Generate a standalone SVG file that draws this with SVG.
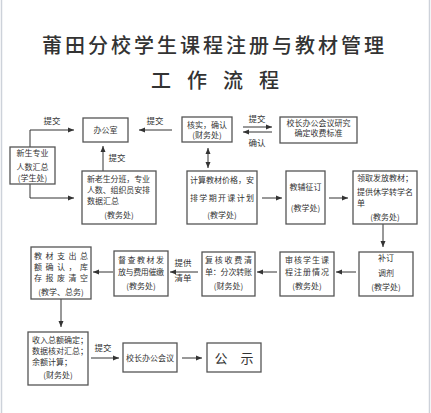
<svg xmlns="http://www.w3.org/2000/svg" width="431" height="413" viewBox="0 0 431 413">
<defs>
<marker id="ah" markerWidth="7" markerHeight="6" refX="6" refY="3" orient="auto" markerUnits="userSpaceOnUse">
<path d="M0,0.5 L6,3 L0,5.5 Z" fill="#333"/>
</marker>
<marker id="ahs" markerWidth="7" markerHeight="6" refX="1" refY="3" orient="auto" markerUnits="userSpaceOnUse">
<path d="M7,0.5 L1,3 L7,5.5 Z" fill="#333"/>
</marker>
</defs>
<style>
.t{font-family:"Noto Sans CJK SC","Noto Sans CJK TC",sans-serif;fill:#333;}
.b{fill:#fff;stroke:#555;stroke-width:1.3;}
.s{font-size:8px;}
.c{text-anchor:middle;}
.lab{font-size:8.5px;text-anchor:middle;}
.cn line,.cn path{stroke:#333;stroke-width:1;fill:none;}
</style>
<rect width="431" height="413" fill="#fff"/>
<line x1="1.5" y1="0" x2="1.5" y2="413" stroke="#cdd2da" stroke-width="1.5"/>
<line x1="429.5" y1="0" x2="429.5" y2="413" stroke="#cdd2da" stroke-width="1.5"/>
<g id="title" class="t">
<text x="42" y="53" font-size="20" letter-spacing="3" font-weight="500">莆田分校学生课程注册与教材管理</text>
<text x="151" y="88" font-size="20" letter-spacing="16" font-weight="500">工作流程</text>
</g>
<g class="cn">
<path d="M30,147 V130 H74" marker-end="url(#ah)"/>
<path d="M30,184 V198 H74" marker-end="url(#ah)"/>
<line x1="103" y1="171" x2="103" y2="146" marker-end="url(#ah)"/>
<line x1="172" y1="130" x2="139" y2="130" marker-end="url(#ah)"/>
<line x1="208" y1="148" x2="208" y2="168" marker-start="url(#ahs)" marker-end="url(#ah)"/>
<line x1="243" y1="127" x2="272" y2="127" marker-end="url(#ah)"/>
<line x1="272" y1="132" x2="243" y2="132" marker-end="url(#ah)"/>
<line x1="262" y1="198" x2="282" y2="198" marker-end="url(#ah)"/>
<line x1="329" y1="198" x2="348" y2="198" marker-end="url(#ah)"/>
<line x1="383" y1="224" x2="383" y2="247" marker-end="url(#ah)"/>
<line x1="356" y1="272" x2="336" y2="272" marker-end="url(#ah)"/>
<line x1="277" y1="272" x2="257" y2="272" marker-end="url(#ah)"/>
<line x1="198" y1="272" x2="170" y2="272" marker-end="url(#ah)"/>
<line x1="113" y1="272" x2="93" y2="272" marker-end="url(#ah)"/>
<line x1="61" y1="299" x2="61" y2="327" marker-end="url(#ah)"/>
<line x1="91" y1="358" x2="119" y2="358" marker-end="url(#ah)"/>
<line x1="182" y1="358" x2="202" y2="358" marker-end="url(#ah)"/>
</g>
<g id="labels" class="t">
<text class="lab" x="52" y="124">提交</text>
<text class="lab" x="117" y="161">提交</text>
<text class="lab" x="155" y="124">提交</text>
<text class="lab" x="257" y="122">提交</text>
<text class="lab" x="257" y="146">确认</text>
<text class="lab" x="183" y="266">提供</text>
<text class="lab" x="183" y="281">清单</text>
<text class="lab" x="103" y="351">提交</text>
</g>
<g id="n_xinsheng" class="t">
<rect class="b" x="10" y="147" width="45" height="37"/>
<text class="s c" x="32.5" y="156">新生专业</text>
<text class="s c" x="32.5" y="170">人数汇总</text>
<text class="s c" x="32.5" y="181">(学生处)</text>
</g>
<g id="n_office" class="t">
<rect class="b" x="83" y="118" width="45" height="24"/>
<text class="s c" x="105.5" y="133">办公室</text>
</g>
<g id="n_fenban" class="t">
<rect class="b" x="82" y="171" width="74" height="53"/>
<text class="s" x="87" y="182" textLength="63">新老生分班，专业</text>
<text class="s" x="87" y="193" textLength="63">人数、组织员安排</text>
<text class="s" x="87" y="204">数据汇总</text>
<text class="s c" x="119" y="218">(教务处)</text>
</g>
<g id="n_heshi" class="t">
<rect class="b" x="182" y="117" width="50" height="25"/>
<text class="s c" x="207" y="128">核实，确认</text>
<text class="s c" x="207" y="138">(财务处)</text>
</g>
<g id="n_xiaozhang1" class="t">
<rect class="b" x="280" y="117" width="77" height="26"/>
<text class="s c" x="318.5" y="126">校长办公会议研究</text>
<text class="s c" x="318.5" y="136">确定收费标准</text>
</g>
<g id="n_jisuan" class="t">
<rect class="b" x="187" y="171" width="70" height="53"/>
<text class="s" x="190" y="183" textLength="64">计算教材价格，安</text>
<text class="s" x="190" y="201" textLength="64">排学期开课计划</text>
<text class="s c" x="222" y="218">(教学处)</text>
</g>
<g id="n_jiaofu" class="t">
<rect class="b" x="286" y="171" width="39" height="53"/>
<text class="s c" x="305.5" y="190">教辅征订</text>
<text class="s c" x="305.5" y="211">(教学处)</text>
</g>
<g id="n_lingqu" class="t">
<rect class="b" x="353" y="171" width="64" height="53"/>
<text class="s" x="357" y="181">领取发放教材；</text>
<text class="s" x="357" y="195">提供休学转学名</text>
<text class="s" x="357" y="206">单</text>
<text class="s c" x="385" y="220">(教务处)</text>
</g>
<g id="n_buding" class="t">
<rect class="b" x="359" y="252" width="54" height="44"/>
<text class="s c" x="386" y="261">补订</text>
<text class="s c" x="386" y="276">调剂</text>
<text class="s c" x="386" y="290">(教学处)</text>
</g>
<g id="n_shenhe" class="t">
<rect class="b" x="280" y="252" width="54" height="44"/>
<text class="s c" x="307" y="263" textLength="44">审核学生课</text>
<text class="s c" x="307" y="275" textLength="44">程注册情况</text>
<text class="s c" x="307" y="289">(教务处)</text>
</g>
<g id="n_fuhe" class="t">
<rect class="b" x="202" y="252" width="53" height="44"/>
<text class="s" x="205" y="263" textLength="47">复核收费清</text>
<text class="s" x="205" y="275" textLength="47">单：分次转账</text>
<text class="s c" x="228.5" y="289">(财务处)</text>
</g>
<g id="n_ducha" class="t">
<rect class="b" x="114" y="251" width="54" height="45"/>
<text class="s" x="118" y="263" textLength="46">督查教材发</text>
<text class="s" x="118" y="275" textLength="46">放与费用催缴</text>
<text class="s c" x="141" y="289">(教务处)</text>
</g>
<g id="n_zhichu" class="t">
<rect class="b" x="31" y="247" width="60" height="52"/>
<text class="s" x="34" y="259" textLength="54">教材支出总</text>
<text class="s" x="34" y="270" textLength="54">额确认，库</text>
<text class="s" x="34" y="281" textLength="54">存报废清空</text>
<text class="s c" x="61" y="295">(教学、总务)</text>
</g>
<g id="n_shouru" class="t">
<rect class="b" x="28" y="332" width="60" height="53"/>
<text class="s" x="32" y="343">收入总额确定；</text>
<text class="s" x="32" y="354">数据核对汇总；</text>
<text class="s" x="32" y="365">余额计算；</text>
<text class="s c" x="58" y="378">(财务处)</text>
</g>
<g id="n_xiaozhang2" class="t">
<rect class="b" x="123" y="343" width="54" height="29"/>
<text class="s c" x="150" y="361">校长办公会议</text>
</g>
<g id="n_gongshi" class="t">
<rect class="b" x="207" y="343" width="54" height="29"/>
<text class="c" x="234" y="362.5" font-size="13" letter-spacing="0">公　示</text>
</g>
</svg>
